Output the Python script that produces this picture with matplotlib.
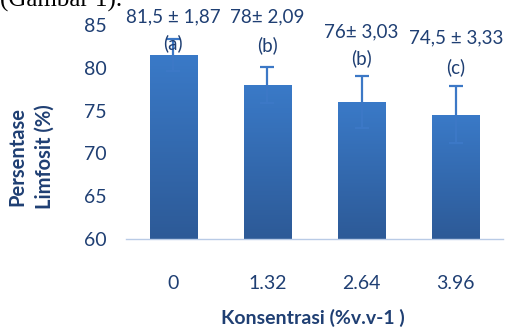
import numpy as np
import matplotlib
matplotlib.use("Agg")
import matplotlib.pyplot as plt
from matplotlib.colors import LinearSegmentedColormap

# -----------------------------
# Data
# -----------------------------
konsentrasi = ["0", "1.32", "2.64", "3.96"]
limfosit = [81.5, 78.0, 76.0, 74.5]
sd = [1.87, 2.09, 3.03, 3.33]
label_atas = ["81,5 \u00b1 1,87", "78\u00b1 2,09", "76\u00b1 3,03", "74,5 \u00b1 3,33"]
label_huruf = ["(a)", "(b)", "(b)", "(c)"]
y_label_atas = [85.9, 85.9, 84.2, 83.5]
y_label_huruf = [82.9, 82.6, 81.1, 80.1]

teks = "#1F3F73"
plt.rcParams["font.family"] = ["Lato", "DejaVu Sans"]

fig = plt.figure(figsize=(5.06, 3.27), dpi=100)
ax = fig.add_axes([0.249, 0.269, 0.745, 0.655])

x = np.arange(len(konsentrasi))
bars = ax.bar(x, limfosit, width=0.5, color="#3572BC", zorder=2)

# gradient fill on each bar (lighter top, darker bottom)
cmap = LinearSegmentedColormap.from_list("g", ["#2D5A97", "#3A7AC8"])
grad = np.linspace(0, 1, 256).reshape(-1, 1)
for b in bars:
    x0, y0 = b.get_x(), b.get_y()
    im = ax.imshow(grad, cmap=cmap, origin="lower", aspect="auto",
                   extent=[x0, x0 + b.get_width(), 60, y0 + b.get_height()], zorder=2)
    im.set_clip_path(b)

ax.errorbar(x, limfosit, yerr=sd, fmt="none", ecolor="#3C78C6",
            elinewidth=1.6, capsize=5, capthick=1.6, zorder=3)

for i in range(len(x)):
    ax.text(x[i], y_label_atas[i], label_atas[i], ha="center", va="center",
            fontsize=13.5, color=teks, zorder=4)
    ax.text(x[i], y_label_huruf[i], label_huruf[i], ha="center", va="center",
            fontsize=13.5, color=teks, zorder=4)

ax.set_xlim(-0.5, 3.5)
ax.set_ylim(60, 85)
ax.set_yticks([60, 65, 70, 75, 80, 85])
ax.set_xticks(x)
ax.set_xticklabels(konsentrasi)
ax.tick_params(axis="both", length=0, labelsize=14, labelcolor=teks)
ax.tick_params(axis="x", pad=26)
ax.tick_params(axis="y", pad=14)

for s in ["top", "right", "left"]:
    ax.spines[s].set_visible(False)
ax.spines["bottom"].set_color("#B9CBE6")
ax.spines["bottom"].set_linewidth(1.0)

fig.text(0.618, 0.027, "Konsentrasi (%v.v-1 )", ha="center", va="center",
         fontsize=14, fontweight="bold", color=teks)
fig.text(0.034, 0.52, "Persentase", rotation=90, ha="center", va="center",
         fontsize=14.5, fontweight="bold", color=teks)
fig.text(0.088, 0.52, "Limfosit (%)", rotation=90, ha="center", va="center",
         fontsize=14.5, fontweight="bold", color=teks)

# caption from the page, mostly cut off at the top
fig.text(0.0, 1.0, "(Gambar 1).", ha="left", va="center", fontsize=18,
         family="Liberation Serif", color="black")

fig.savefig("out.png", dpi=100)
